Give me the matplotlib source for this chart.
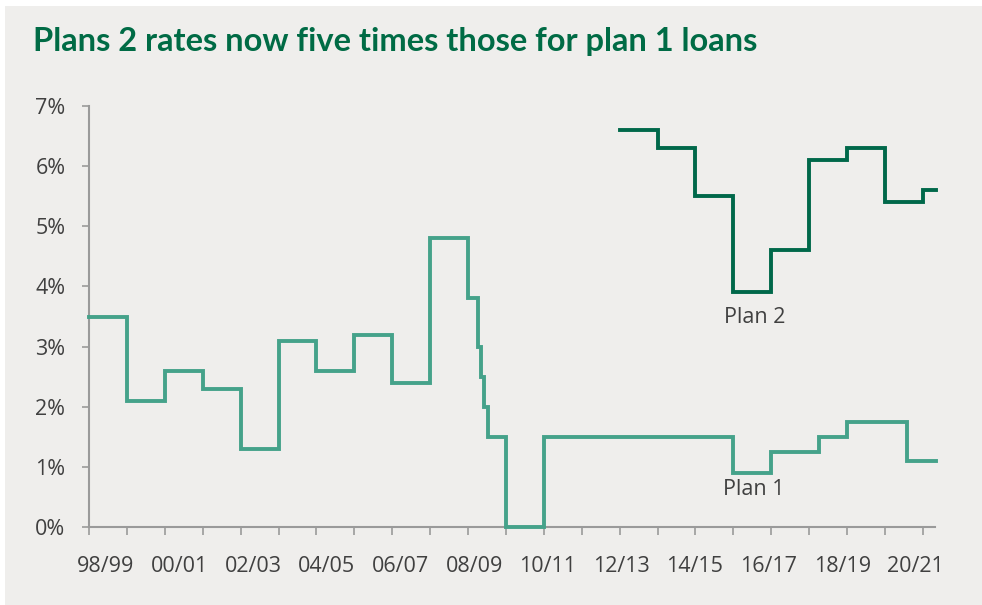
import matplotlib.pyplot as plt
import matplotlib.patches as patches
import numpy as np

# years counted from the start of 98/99; each entry is where a rate starts
plan1_start = [0, 1, 2, 3, 4, 5, 6, 7, 8, 9, 10, 10.27, 10.34, 10.42, 10.52,
               11, 12, 17, 18, 19.26, 20, 21.58, 22.35]
plan1_rate = [3.5, 2.1, 2.6, 2.3, 1.3, 3.1, 2.6, 3.2, 2.4, 4.8, 3.8, 3.0, 2.5,
              2.0, 1.5, 0.0, 1.5, 0.9, 1.25, 1.5, 1.75, 1.1, 1.1]

plan2_start = [14, 15, 16, 17, 18, 19, 20, 21, 22, 22.35]
plan2_rate = [6.6, 6.3, 5.5, 3.9, 4.6, 6.1, 6.3, 5.4, 5.6, 5.6]

year_labels = ['98/99', '00/01', '02/03', '04/05', '06/07', '08/09',
               '10/11', '12/13', '14/15', '16/17', '18/19', '20/21']
label_pos = [0.45 + 1.942 * i for i in range(len(year_labels))]

bg = '#efeeec'
txt = '#404040'
axis_col = '#9a9a9a'
plan1_col = '#45a28a'
plan2_col = '#00684a'

plt.rcParams['font.family'] = ['Open Sans', 'DejaVu Sans']

fig = plt.figure(figsize=(9.82, 6.05), dpi=100)
fig.patch.set_facecolor('white')
fig.patches.append(patches.Rectangle((5 / 982, 0), 977 / 982, 599 / 605,
                                     transform=fig.transFigure,
                                     facecolor=bg, edgecolor='none', zorder=-10))

ax = fig.add_axes([89 / 982, 78 / 605, 846 / 982, 421 / 605])
ax.set_facecolor('none')
ax.set_zorder(5)

ax.step(plan1_start, plan1_rate, where='post', color=plan1_col, lw=2.8,
        solid_joinstyle='miter', clip_on=False, zorder=3)
ax.step(plan2_start, plan2_rate, where='post', color=plan2_col, lw=2.8,
        solid_joinstyle='miter', clip_on=False, zorder=3)

ax.set_xlim(0, 22.32)
ax.set_ylim(0, 7)

ax.set_yticks(range(8))
ax.set_yticklabels([f'{v}%' for v in range(8)])
ax.set_xticks(label_pos)
ax.set_xticklabels(year_labels)
ax.set_xticks(np.arange(0, 23), minor=True)

ax.tick_params(axis='x', which='major', length=0, pad=21, labelsize=15.5,
               labelcolor=txt)
ax.tick_params(axis='x', which='minor', length=6, width=1.2, color=axis_col)
ax.tick_params(axis='y', length=5, width=1.2, color=axis_col, pad=12,
               labelsize=15.5, labelcolor=txt)

for s in ['top', 'right']:
    ax.spines[s].set_visible(False)
for s in ['left', 'bottom']:
    ax.spines[s].set_color(axis_col)
    ax.spines[s].set_linewidth(1.5)
    ax.spines[s].set_zorder(2)

ax.text(17.55, 3.48, 'Plan 2', ha='center', va='center', fontsize=15.5, color=txt)
ax.text(17.55, 0.62, 'Plan 1', ha='center', va='center', fontsize=15.5, color=txt)

fig.text(33 / 982, 1 - 41 / 605, 'Plans 2 rates now five times those for plan 1 loans',
         fontsize=23.5, fontweight='bold', color='#006b45', family=['Lato', 'DejaVu Sans'],
         va='center', ha='left')

fig.savefig('out.png', dpi=100, facecolor=fig.get_facecolor())
